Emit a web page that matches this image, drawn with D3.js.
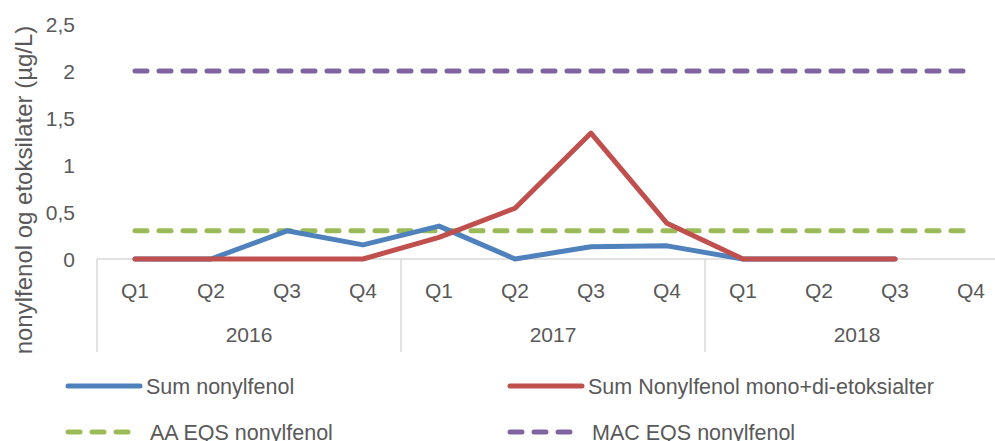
<!DOCTYPE html>
<html>
<head>
<meta charset="utf-8">
<script src="https://cdn.jsdelivr.net/npm/d3@7"></script>
<style>
	body { margin: 0; background: #fff; }
	svg text { font-family: "Liberation Sans", Arial, sans-serif; fill: #595959; }
</style>
</head>
<body>
<div id="chart"></div>
<script>
"use strict";

var years = ["2016", "2017", "2018"];
var quarters = ["Q1", "Q2", "Q3", "Q4"];
var yTicks = [0, 0.5, 1, 1.5, 2, 2.5];

// one value per quarter, null = no measurement
var sumNonylfenol = [0, 0, 0.30, 0.15, 0.35, 0, 0.13, 0.14, 0, 0, 0, null];
var sumEtoksilater = [0, 0, 0, 0, 0.23, 0.54, 1.34, 0.38, 0, 0, 0, null];
var aaEqs = [0.3, 0.3, 0.3, 0.3, 0.3, 0.3, 0.3, 0.3, 0.3, 0.3, 0.3, 0.3];
var macEqs = [2, 2, 2, 2, 2, 2, 2, 2, 2, 2, 2, 2];

var series = [
	{name: "Sum nonylfenol", values: sumNonylfenol, color: "#4f81bd", dashed: false},
	{name: "Sum Nonylfenol mono+di-etoksialter", values: sumEtoksilater, color: "#c0504d", dashed: false},
	{name: "AA EQS nonylfenol", values: aaEqs, color: "#9bbb59", dashed: true},
	{name: "MAC EQS nonylfenol", values: macEqs, color: "#8064a2", dashed: true}
];

var width = 995, height = 441;
var margins = {top: 24, left: 97};
var plotBottom = 259;
var plotRight = 1009;

var categories = [];
years.forEach(function(y) {
	quarters.forEach(function(q) {
		categories.push(y + "-" + q);
	});
});

var svg = d3.select("#chart").append("svg")
	.attr("width", width)
	.attr("height", height);

var x = d3.scaleBand()
	.domain(categories)
	.range([margins.left, plotRight]);

var xYear = d3.scaleBand()
	.domain(years)
	.range([margins.left, plotRight]);

var y = d3.scaleLinear()
	.domain([0, 2.5])
	.range([plotBottom, margins.top]);

// y tick labels (no axis line in reference)
svg.append("g")
	.selectAll("text")
	.data(yTicks)
	.enter().append("text")
		.attr("x", 75)
		.attr("y", function(d) { return y(d) + 7.5; })
		.style("text-anchor", "end")
		.style("font-size", "21px")
		.text(function(d) { return d3.format(",")(d).replace(".", ","); });

// y title
svg.append("text")
	.attr("transform", "translate(32," + 190 + ") rotate(-90)")
	.style("text-anchor", "middle")
	.style("font-size", "24px")
	.text("nonylfenol og etoksilater (µg/L)");

// category axis
var axis = svg.append("g").attr("class", "axis");
axis.append("line")
	.attr("x1", margins.left).attr("x2", plotRight)
	.attr("y1", plotBottom).attr("y2", plotBottom)
	.attr("stroke", "#d9d9d9").attr("stroke-width", 1.5);

axis.selectAll("line.sep")
	.data(years)
	.enter().append("line")
		.attr("class", "sep")
		.attr("x1", function(d) { return xYear(d); })
		.attr("x2", function(d) { return xYear(d); })
		.attr("y1", plotBottom)
		.attr("y2", 352)
		.attr("stroke", "#d9d9d9").attr("stroke-width", 1.5);

axis.selectAll("text.q")
	.data(categories)
	.enter().append("text")
		.attr("class", "q")
		.attr("x", function(d) { return x(d) + x.bandwidth() / 2; })
		.attr("y", 298)
		.style("text-anchor", "middle")
		.style("font-size", "21px")
		.text(function(d) { return d.split("-")[1]; });

axis.selectAll("text.year")
	.data(years)
	.enter().append("text")
		.attr("class", "year")
		.attr("x", function(d) { return xYear(d) + xYear.bandwidth() / 2; })
		.attr("y", 342)
		.style("text-anchor", "middle")
		.style("font-size", "21px")
		.text(function(d) { return d; });

// lines
var line = d3.line()
	.defined(function(d) { return d !== null; })
	.x(function(d, i) { return x(categories[i]) + x.bandwidth() / 2; })
	.y(function(d) { return y(d); });

var drawOrder = [2, 3, 0, 1];
drawOrder.forEach(function(i) {
	var s = series[i];
	svg.append("path")
		.datum(s.values)
		.attr("fill", "none")
		.attr("stroke", s.color)
		.attr("stroke-width", 5)
		.attr("stroke-linecap", "round")
		.attr("stroke-linejoin", "round")
		.attr("stroke-dasharray", s.dashed ? "12,12" : null)
		.attr("d", line);
});

// legend
var legendPos = [
	{x: 68, y: 386},
	{x: 510, y: 386},
	{x: 68, y: 432},
	{x: 510, y: 432}
];

var legend = svg.append("g").attr("class", "legend");
series.forEach(function(s, i) {
	var p = legendPos[i];
	legend.append("line")
		.attr("x1", p.x).attr("x2", p.x + 72)
		.attr("y1", p.y).attr("y2", p.y)
		.attr("stroke", s.color)
		.attr("stroke-width", 5)
		.attr("stroke-linecap", "round")
		.attr("stroke-dasharray", s.dashed ? "12,12" : null);
	legend.append("text")
		.attr("x", p.x + (s.dashed ? 82 : 78))
		.attr("y", p.y + 7.5)
		.style("font-size", "21.5px")
		.text(s.name);
});
</script>
</body>
</html>
